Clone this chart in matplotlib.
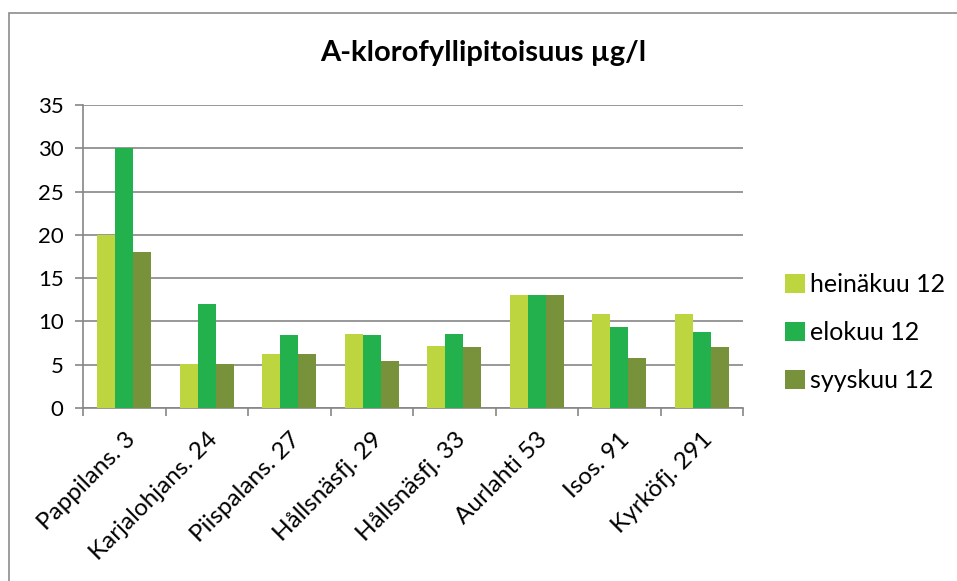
import numpy as np
import matplotlib.pyplot as plt
from matplotlib.patches import Rectangle

plt.rcParams['font.family'] = ['Lato', 'DejaVu Sans']

sites = ['Pappilans. 3', 'Karjalohjans. 24', 'Piispalans. 27', 'Hållsnäsfj. 29',
         'Hållsnäsfj. 33', 'Aurlahti 53', 'Isos. 91', 'Kyrköfj. 291']
heinakuu = [20, 5.1, 6.2, 8.6, 7.2, 13, 10.9, 10.9]
elokuu = [30, 12, 8.4, 8.4, 8.6, 13, 9.3, 8.8]
syyskuu = [18, 5.1, 6.2, 5.4, 7.0, 13, 5.8, 7.0]
labels = ['heinäkuu 12', 'elokuu 12', 'syyskuu 12']
colors = ['#BDD63F', '#22B14C', '#77923A']

fig = plt.figure(figsize=(9.57, 5.81), dpi=100)
fig.patches.append(Rectangle((9/957, -0.05), 1.1, (581 - 13) / 581 + 0.05,
                             transform=fig.transFigure, fill=False,
                             edgecolor='#8c8c8c', linewidth=1.2))

ax = fig.add_axes([83/957, (581-408)/581, (743-83)/957, (408-105)/581])

x = np.arange(len(sites))
w = 0.22
for i, (vals, lab, c) in enumerate(zip([heinakuu, elokuu, syyskuu], labels, colors)):
    ax.bar(x + (i - 1) * w, vals, width=w, color=c, label=lab, zorder=3)

ax.set_xlim(-0.5, len(sites) - 0.5)
ax.set_ylim(0, 35)
ax.set_yticks(range(0, 36, 5))
ax.yaxis.grid(True, color='#868686', linewidth=1.2, zorder=0)
for s in ['top', 'right']:
    ax.spines[s].set_visible(False)
for s in ['left', 'bottom']:
    ax.spines[s].set_color('#868686')
    ax.spines[s].set_linewidth(1.2)

ax.set_xticks(x)
ax.set_xticklabels(sites, rotation=45, ha='right', rotation_mode='anchor', fontsize=17.5)
ax.tick_params(axis='x', which='major', length=0, pad=15)
ax.set_xticks(np.arange(-0.5, len(sites), 1), minor=True)
ax.tick_params(axis='x', which='minor', length=6, color='#868686', width=1.2)
ax.tick_params(axis='y', length=6, color='#868686', width=1.2, labelsize=16, pad=8)

fig.text(483/957, 1 - 53/581, 'A-klorofyllipitoisuus µg/l', ha='center', va='center',
         fontsize=21, fontweight='bold')

ax.legend(loc='center left', bbox_to_anchor=(762/957, 1 - 333/581),
          bbox_transform=fig.transFigure, frameon=False, fontsize=18,
          handlelength=0.8, handleheight=0.8, handletextpad=0.2, labelspacing=1.0)

fig.savefig('out.png', dpi=100)
